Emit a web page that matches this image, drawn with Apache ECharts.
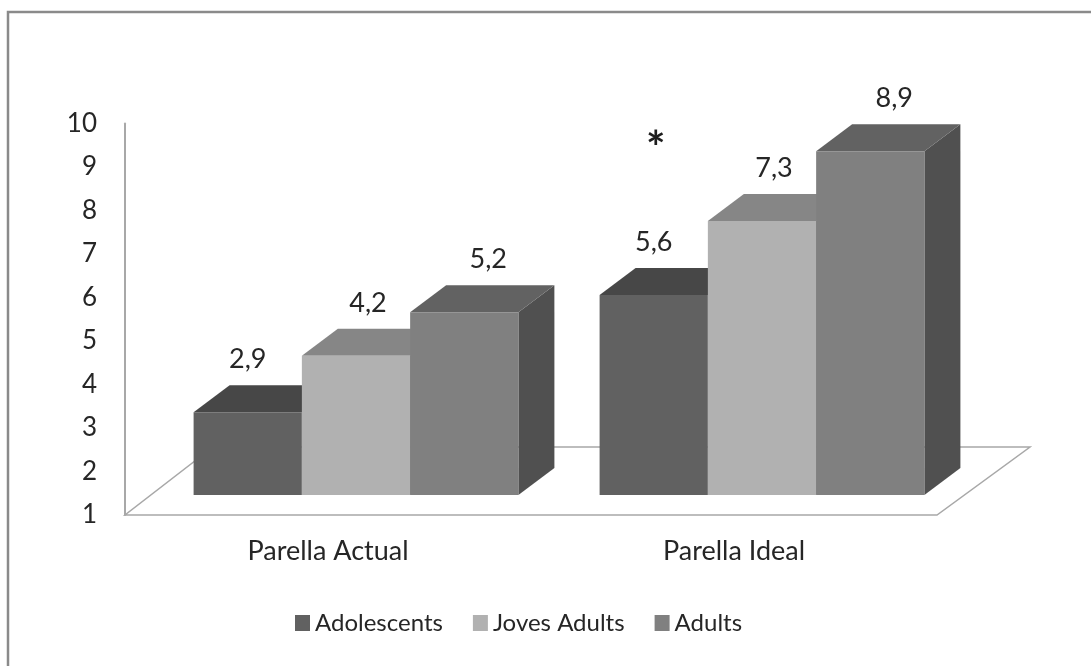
<!DOCTYPE html>
<html>
<head>
<meta charset="utf-8">
<script src="https://cdn.jsdelivr.net/npm/echarts@6/dist/echarts.min.js"></script>
<style>
  html, body { margin: 0; padding: 0; background: #ffffff; }
  #chart { width: 1091px; height: 666px; }
</style>
</head>
<body>
<div id="chart"></div>
<script>
// Mean scores by age group, current vs ideal partner
const categories = ['Parella Actual', 'Parella Ideal'];
const seriesNames = ['Adolescents', 'Joves Adults', 'Adults'];
const adolescents = [2.9, 5.6];
const jovesAdults = [4.2, 7.3];
const adults = [5.2, 8.9];
const significance = ['', '*'];   // marker drawn above the Adolescents bar
const yMin = 1, yMax = 10, yStep = 1;

// Face colours per series: front, top, side
const palette = [
  { front: '#616161', top: '#474747', side: '#4a4a4a' },
  { front: '#b1b1b1', top: '#868686', side: '#7a7a7a' },
  { front: '#808080', top: '#626262', side: '#505050' }
];

const FONT = 'Lato, "Open Sans", sans-serif';
const TEXT = '#262626';
const GROUP = 0.8;                 // share of a category band filled by bars
const FRONT = [28, -20];           // bar front plane offset from floor front edge
const DEPTH = [36, -27];           // bar depth (oblique)
const FLOOR = [90, -68];           // floor depth (oblique)

const chart = echarts.init(document.getElementById('chart'), null, { renderer: 'canvas' });

function fmt(v) { return String(v).replace('.', ','); }

function barRenderer(s) {
  return function (params, api) {
    const cat = api.value(0);
    const val = api.value(1);
    const base = api.coord([cat, yMin]);
    const top = api.coord([cat, val]);
    const band = api.size([1, 0])[0];
    const w = band * GROUP / 3;
    const x0 = base[0] - band * GROUP / 2 + s * w + FRONT[0];
    const yb = base[1] + FRONT[1];
    const yt = top[1] + FRONT[1];
    const dx = DEPTH[0], dy = DEPTH[1];
    const c = palette[s];
    const children = [
      { type: 'polygon', shape: { points: [[x0 + w, yb], [x0 + w, yt], [x0 + w + dx, yt + dy], [x0 + w + dx, yb + dy]] },
        style: { fill: c.side } },
      { type: 'polygon', shape: { points: [[x0, yt], [x0 + w, yt], [x0 + w + dx, yt + dy], [x0 + dx, yt + dy]] },
        style: { fill: c.top } },
      { type: 'rect', shape: { x: x0, y: yt, width: w, height: yb - yt },
        style: { fill: c.front } },
      { type: 'text', x: x0 + w / 2 + s * 12, y: yt - 53,
        style: { text: fmt(val), font: '27px ' + FONT, fill: TEXT, align: 'center', verticalAlign: 'middle' } }
    ];
    if (s === 0 && significance[cat]) {
      children.push({ type: 'text', x: x0 + w / 2 + 2, y: yt - 146,
        style: { text: significance[cat], font: 'bold 46px ' + FONT, fill: '#1e1e1e', align: 'center', verticalAlign: 'middle' } });
    }
    return { type: 'group', children: children };
  };
}

function floorRenderer(params, api) {
  const band = api.size([1, 0])[0];
  const left = api.coord([0, yMin]);
  const right = api.coord([categories.length - 1, yMin]);
  const xl = left[0] - band / 2, xr = right[0] + band / 2, y = left[1];
  return {
    type: 'polygon',
    shape: { points: [[xl, y], [xr, y], [xr + FLOOR[0] + 3, y + FLOOR[1]], [xl + FLOOR[0] - 2, y + FLOOR[1]]] },
    style: { fill: '#ffffff', stroke: '#a8a8a8', lineWidth: 1.5 }
  };
}

const values = [adolescents, jovesAdults, adults];

const barSeries = seriesNames.map(function (name, s) {
  return {
    type: 'custom',
    name: name,
    z: 3,
    itemStyle: { color: palette[s].front },
    renderItem: barRenderer(s),
    encode: { x: 0, y: 1 },
    data: categories.map(function (c, i) { return [i, values[s][i]]; })
  };
});

chart.setOption({
  animation: false,
  backgroundColor: '#ffffff',
  grid: { left: 125, right: 154, top: 123.5, bottom: 151, containLabel: false },
  xAxis: {
    type: 'category',
    data: categories,
    axisLine: { show: false },
    axisTick: { show: false },
    axisLabel: { fontFamily: FONT, fontSize: 27, color: TEXT, margin: 23 }
  },
  yAxis: {
    type: 'value',
    min: yMin, max: yMax, interval: yStep,
    axisLine: { show: true, lineStyle: { color: '#a8a8a8', width: 2 } },
    axisTick: { show: false },
    splitLine: { show: false },
    axisLabel: { fontFamily: FONT, fontSize: 26, color: TEXT, margin: 28 }
  },
  legend: {
    data: seriesNames,
    left: 295,
    top: 611,
    padding: 0,
    icon: 'rect',
    itemWidth: 15,
    itemHeight: 16,
    itemGap: 30,
    textStyle: { fontFamily: FONT, fontSize: 24, color: TEXT }
  },
  graphic: [
    { type: 'rect', shape: { x: 8, y: 12, width: 1400, height: 1000 },
      style: { fill: 'none', stroke: '#8a8a8a', lineWidth: 2.5 }, z: 100, silent: true }
  ],
  series: [
    {
      type: 'custom',
      name: 'floor',
      z: 1,
      silent: true,
      renderItem: floorRenderer,
      data: [[0, yMin]]
    }
  ].concat(barSeries)
});
</script>
</body>
</html>
